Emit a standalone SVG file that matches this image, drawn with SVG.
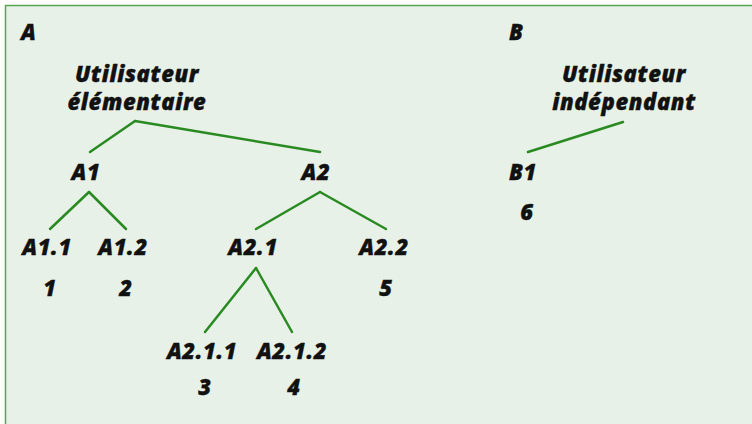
<svg xmlns="http://www.w3.org/2000/svg" width="752" height="424" viewBox="0 0 752 424">
<style>
.t,.l{font-family:"Open Sans","Noto Sans","Liberation Sans",sans-serif;font-weight:800;font-style:italic;font-size:22px;letter-spacing:0.6px;fill:#111;stroke:#111;stroke-width:0.35px}
.t{text-anchor:middle}
.c line{stroke:#2a8a22;stroke-width:2.5;stroke-linecap:round}
</style>
<rect x="5.5" y="5.5" width="760" height="430" fill="#e7f1e7" stroke="#5aa553" stroke-width="1.5"/>
<text class="l" x="21" y="40">A</text>
<text class="l" x="509" y="40">B</text>
<g class="c" id="connectors">
<line x1="135" y1="121" x2="90" y2="152"/>
<line x1="135" y1="121" x2="320" y2="152"/>
<line x1="89" y1="192" x2="50" y2="229"/>
<line x1="89" y1="192" x2="126" y2="229"/>
<line x1="320" y1="192" x2="256" y2="229"/>
<line x1="320" y1="192" x2="386" y2="229"/>
<line x1="256" y1="268" x2="205" y2="332"/>
<line x1="256" y1="268" x2="292" y2="332"/>
<line x1="623" y1="122" x2="528" y2="152"/>
</g>
<g id="root-a"><text class="t" x="137" y="82">Utilisateur</text><text class="t" x="137" y="110">élémentaire</text></g>
<g id="a1"><text class="t" x="86" y="180">A1</text></g>
<g id="a2"><text class="t" x="316" y="180">A2</text></g>
<g id="a11"><text class="t" x="47" y="255">A1.1</text><text class="t" x="50" y="296">1</text></g>
<g id="a12"><text class="t" x="123" y="255">A1.2</text><text class="t" x="126" y="296">2</text></g>
<g id="a21"><text class="t" x="253" y="255">A2.1</text></g>
<g id="a22"><text class="t" x="384" y="255">A2.2</text><text class="t" x="386" y="296">5</text></g>
<g id="a211"><text class="t" x="202" y="359">A2.1.1</text><text class="t" x="205" y="395">3</text></g>
<g id="a212"><text class="t" x="292" y="359">A2.1.2</text><text class="t" x="294" y="395">4</text></g>
<g id="root-b"><text class="t" x="624" y="82">Utilisateur</text><text class="t" x="624" y="110">indépendant</text></g>
<g id="b1"><text class="t" x="523" y="180">B1</text><text class="t" x="527" y="220">6</text></g>
</svg>
